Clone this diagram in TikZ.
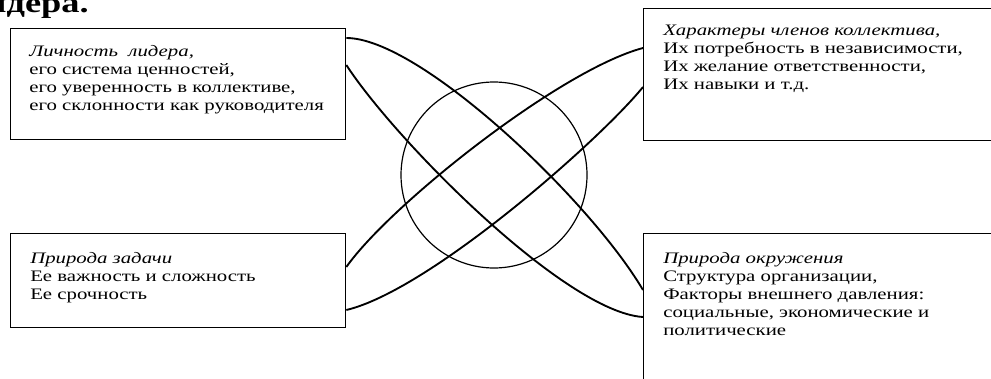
\documentclass[tikz,border=0pt]{standalone}
\usepackage{fontspec}
\setmainfont{Liberation Serif}[FakeStretch=1.3]
\usetikzlibrary{calc}

\begin{document}
\begin{tikzpicture}[x=0.75pt,y=-0.75pt,
  factor/.style={draw,line width=1pt,inner sep=0pt,anchor=north west},
  factext/.style={anchor=north west,inner sep=0pt,align=left,font=\fontsize{12pt}{13.5pt}\selectfont},
  orbit/.style={line width=1.4pt}]
  \useasboundingbox (0,0) rectangle (991,378);
  \node[anchor=base east,inner sep=0pt,font=\fontsize{21pt}{24pt}\selectfont\bfseries] (title) at (89,13) {лидера.};
  % four factor boxes
  \node[factor,minimum width=251.25pt,minimum height=83.25pt] (tl) at (10,28) {};
  \node[factor,minimum width=251.25pt,minimum height=70.5pt] (bl) at (10,233) {};
  \node[factor,minimum width=264pt,minimum height=99pt] (tr) at (643,8) {};
  \node[factor,minimum width=264pt,minimum height=114pt] (br) at (643,233) {};
  \node[factext] (tltext) at ($(tl.north west)+(19,17)$)
    {\textit{Личность\ \ лидера,}\\его система ценностей,\\его уверенность в коллективе,\\его склонности как руководителя};
  \node[factext] (bltext) at ($(bl.north west)+(20,19)$)
    {\textit{Природа задачи}\\Ее важность и сложность\\Ее срочность};
  \node[factext] (trtext) at ($(tr.north west)+(20,17)$)
    {\textit{Характеры членов коллектива,}\\Их потребность в независимости,\\Их желание ответственности,\\Их навыки и т.д.};
  \node[factext] (brtext) at ($(br.north west)+(20,19)$)
    {\textit{Природа окружения}\\Структура организации,\\Факторы внешнего давления:\\социальные, экономические и\\политические};
  % centre
  \node[draw,circle,line width=0.9pt,minimum size=139.5pt,inner sep=0pt] (core) at (494,175) {};
  \coordinate (a1) at ($(tl.north east)+(0,10)$);
  \coordinate (a2) at ($(tl.north east)+(0,37)$);
  \coordinate (a3) at ($(br.north west)+(0,57)$);
  \coordinate (a4) at ($(br.north west)+(0,84)$);
  \coordinate (b1) at ($(bl.north east)+(0,34)$);
  \coordinate (b2) at ($(bl.north east)+(0,77)$);
  \coordinate (b3) at ($(tr.north west)+(0,40)$);
  \coordinate (b4) at ($(tr.north west)+(0,79)$);
  \draw[orbit] (a1) .. controls (420,38) and (590,200) .. (a3);
  \draw[orbit] (a2) .. controls (395,140) and (565,312) .. (a4);
  \draw[orbit] (b1) .. controls (390,205) and (560,70) .. (b3);
  \draw[orbit] (b2) .. controls (430,290) and (600,140) .. (b4);
\end{tikzpicture}
\end{document}
